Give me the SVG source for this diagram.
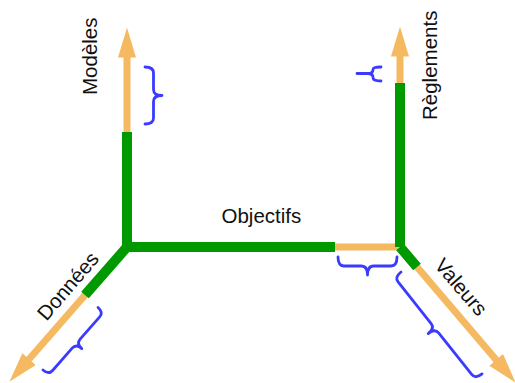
<svg xmlns="http://www.w3.org/2000/svg" width="515" height="383" viewBox="0 0 515 383">
<style>
.o{stroke:#f5b961;stroke-width:7;fill:none}
.g{stroke:#009900;stroke-width:10;fill:none}
.b{stroke:#3b3bff;stroke-width:2.8;fill:none;stroke-linecap:round;stroke-linejoin:round}
.t{font-family:"Liberation Sans",Arial,sans-serif;font-size:20.5px;fill:#111}
</style>
<defs>
<marker id="ah" markerUnits="userSpaceOnUse" markerWidth="30" markerHeight="18" viewBox="0 0 30 18" refX="0.5" refY="9" orient="auto">
<path d="M0,0 L30,9 L0,18 z" fill="#f5b961"/>
</marker>
</defs>
<g id="connectors">
<path class="o" d="M127,247 V57" marker-end="url(#ah)"/>
<path class="o" d="M400,247 V56" marker-end="url(#ah)"/>
<path class="o" d="M127,247 L28.8,359.5" marker-end="url(#ah)"/>
<path class="o" d="M400,247 L496.5,360.2" marker-end="url(#ah)"/>
<path class="o" d="M335,247 H400"/>
<path class="g" d="M127,132 V247"/>
<path class="g" d="M127,247 H335"/>
<path class="g" d="M127,247 L85,295"/>
<path class="g" d="M400,83 V247"/>
<path class="g" d="M400,247 L417,267"/>
</g>
<g id="braces">
<path class="b" transform="translate(145,124) rotate(-90)" d="M0,0 Q0,8.5 6,8.5 H22.5 Q28.5,8.5 28.5,17 Q28.5,8.5 34.5,8.5 H51 Q57,8.5 57,0"/>
<path class="b" d="M357,73.5 H368 Q373,73.5 373,69.5 Q373,67 381,67 M368,73.5 Q373,73.5 373,77.5 Q373,81 381,81"/>
<path class="b" transform="translate(338,257)" d="M0,0 Q0,9 6,9 H23.5 Q29.5,9 29.5,18 Q29.5,9 35.5,9 H53 Q59,9 59,0"/>
<path class="b" transform="translate(401,272) rotate(51.5)" d="M0,0 Q0,8.5 6,8.5 H59.1 Q65.1,8.5 65.1,17 Q65.1,8.5 71.1,8.5 H124.2 Q130.2,8.5 130.2,0"/>
<path class="b" transform="translate(43,370) rotate(-48.65)" d="M0,0 Q0,7.5 6,7.5 H35.65 Q41.65,7.5 41.65,15 Q41.65,7.5 47.65,7.5 H77.3 Q83.3,7.5 83.3,0"/>
</g>
<g id="modeles"><text class="t" transform="translate(97,95) rotate(-90)">Modèles</text></g>
<g id="reglements"><text class="t" transform="translate(436.5,120) rotate(-90)">Règlements</text></g>
<g id="objectifs"><text class="t" x="221.5" y="222.5">Objectifs</text></g>
<g id="donnees"><text class="t" text-anchor="middle" transform="translate(73.3,290.6) rotate(-49.3)">Données</text></g>
<g id="valeurs"><text class="t" text-anchor="middle" transform="translate(455.7,291.6) rotate(49.3)">Valeurs</text></g>
</svg>
